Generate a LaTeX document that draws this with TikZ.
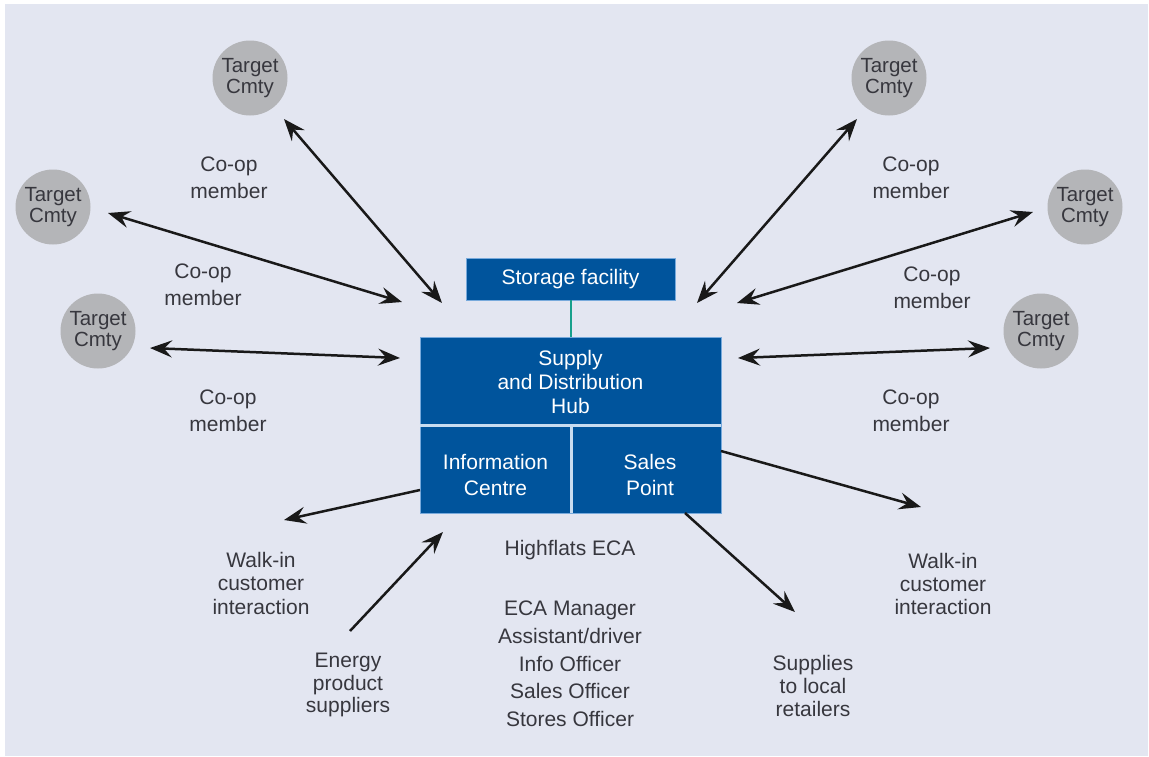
\documentclass[tikz,border=0pt]{standalone}
\usepackage{fontspec}
\setmainfont{Liberation Sans}
\usetikzlibrary{arrows.meta}
\definecolor{bg}{RGB}{227,230,241}
\definecolor{hubblue}{RGB}{0,84,156}
\definecolor{edgeblue}{RGB}{120,170,220}
\definecolor{divider}{RGB}{200,220,240}
\definecolor{txt}{RGB}{55,55,62}
\definecolor{cgrey}{RGB}{180,181,184}
\definecolor{tealline}{RGB}{24,160,140}
\begin{document}
\begin{tikzpicture}[x=1pt,y=-1pt,
  lbl/.style={text=txt, align=center, inner sep=0pt, font=\fontsize{21}{#1}\selectfont},
  lbl/.default=27,
  cmty/.style={circle, fill=cgrey, minimum size=75pt, inner sep=0pt, text=txt, align=center, font=\fontsize{20.5}{21.5}\selectfont},
  bluebox/.style={rectangle, fill=hubblue, draw=edgeblue, line width=0.7pt, inner sep=0pt},
  boxtext/.style={text=white, align=center, inner sep=0pt, font=\fontsize{21}{#1}\selectfont},
  boxtext/.default=24,
  tip/.tip={Stealth[length=22pt,width=17pt,inset=8pt]},
  link/.style={line width=2.5pt, draw=black!90, -tip},
  dlink/.style={line width=2.5pt, draw=black!90, tip-tip},
]
\useasboundingbox (0,0) rectangle (1149,756);
\fill[white] (0,0) rectangle (1149,756);
\fill[bg] (5,4) rectangle (1148,756);

% boxes
\node[bluebox, minimum width=209pt, minimum height=42pt] (storage) at (570.5,279) {};
\node[boxtext] at (storage.center) {Storage facility};
\node[bluebox, minimum width=301pt, minimum height=88pt] (hub) at (570.5,381) {};
\node[boxtext=24] (hubtext) at (570.5,382) {Supply\\and Distribution\\Hub};
\node[bluebox, minimum width=151pt, minimum height=88pt] (info) at (495.5,469) {};
\node[bluebox, minimum width=150pt, minimum height=88pt] (sales) at (646,469) {};
\draw[divider, line width=2.5pt] (hub.south west) -- (hub.south east);
\draw[divider, line width=2.5pt] (info.north east) -- (info.south east);
\node[boxtext=26] (infotext) at (495.5,475) {Information\\Centre};
\node[boxtext=26] (salestext) at (650,475) {Sales\\Point};
\draw[tealline, line width=2pt] (storage.south) -- (hub.north);

% target communities
\node[cmty] (t1) at (250,78) {Target\\Cmty};
\node[cmty] (t2) at (53,207) {Target\\Cmty};
\node[cmty] (t3) at (98,331) {Target\\Cmty};
\node[cmty] (t4) at (889,78) {Target\\Cmty};
\node[cmty] (t5) at (1085,207) {Target\\Cmty};
\node[cmty] (t6) at (1041,331) {Target\\Cmty};

% labels
\node[lbl] (c1) at (229,178) {Co-op\\member};
\node[lbl] (c2) at (203,285) {Co-op\\member};
\node[lbl] (c3) at (228,411) {Co-op\\member};
\node[lbl] (c4) at (911,178) {Co-op\\member};
\node[lbl] (c5) at (932,288) {Co-op\\member};
\node[lbl] (c6) at (911,411) {Co-op\\member};
\node[lbl=23.5] (wl) at (261,583) {Walk-in\\customer\\interaction};
\node[lbl=22.5] (en) at (348,685) {Energy\\product\\suppliers};
\node[lbl] (hf) at (570,550) {Highflats ECA};
\node[lbl=27.7] (staff) at (570,664) {ECA Manager\\Assistant/driver\\Info Officer\\Sales Officer\\Stores Officer};
\node[lbl=23] (wr) at (943,584) {Walk-in\\customer\\interaction};
\node[lbl=23] (su) at (813,686) {Supplies\\to local\\retailers};

% arrow end points
\coordinate (a1s) at (284,119); \coordinate (a1e) at (442,303);
\coordinate (a2s) at (108,213); \coordinate (a2e) at (402,302);
\coordinate (a3s) at (150,348); \coordinate (a3e) at (400,358);
\coordinate (b1s) at (857,119); \coordinate (b1e) at (697,303);
\coordinate (b2s) at (1033,212); \coordinate (b2e) at (737,303);
\coordinate (b3s) at (990,348); \coordinate (b3e) at (738,358);
\coordinate (wls) at (420,490); \coordinate (wle) at (284,520);
\coordinate (ens) at (350,631); \coordinate (ene) at (443,532);
\coordinate (wrs) at (721,451); \coordinate (wre) at (921,507);
\coordinate (sus) at (685,513); \coordinate (sue) at (795,612);

\draw[dlink] (a1s) -- (a1e);
\draw[dlink] (a2s) -- (a2e);
\draw[dlink] (a3s) -- (a3e);
\draw[dlink] (b1s) -- (b1e);
\draw[dlink] (b2s) -- (b2e);
\draw[dlink] (b3s) -- (b3e);
\draw[link] (wls) -- (wle);
\draw[link] (ens) -- (ene);
\draw[link] (wrs) -- (wre);
\draw[link] (sus) -- (sue);
\end{tikzpicture}
\end{document}
